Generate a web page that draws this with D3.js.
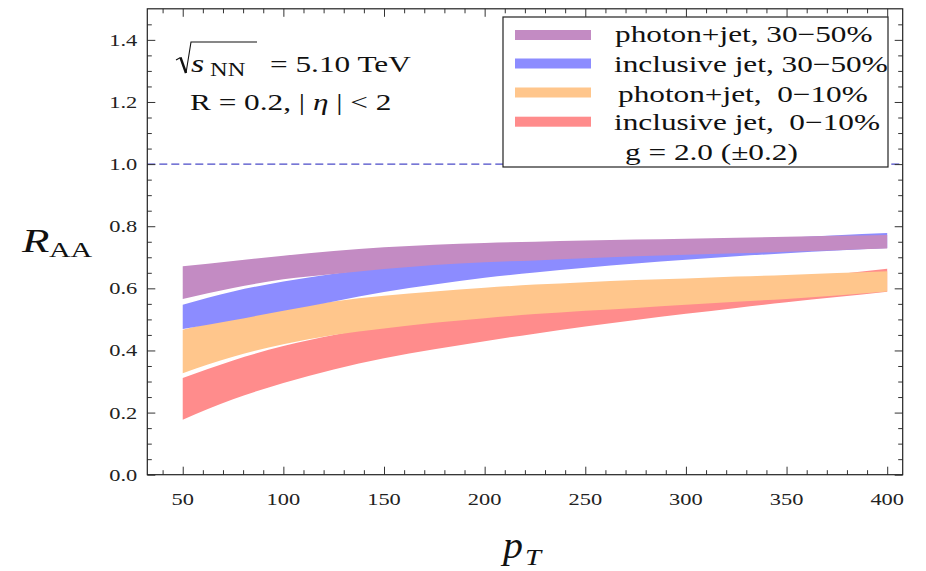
<!DOCTYPE html>
<html><head><meta charset="utf-8">
<script src="https://cdn.jsdelivr.net/npm/d3@7"></script>
<style>body{margin:0;background:#fff} svg{display:block} text{white-space:pre}</style>
</head><body><svg id="c" width="926" height="571"></svg>
<script>
// ---- data ----
const pT = [50,75,100,125,150,175,200,225,250,275,300,325,350,375,400];
const photonJet3050Lo = [0.566,0.601,0.629,0.646,0.662,0.675,0.684,0.690,0.697,0.703,0.708,0.713,0.718,0.723,0.728];
const photonJet3050Hi = [0.671,0.688,0.705,0.720,0.732,0.740,0.746,0.750,0.754,0.757,0.760,0.763,0.766,0.769,0.772];
const inclJet3050Lo   = [0.469,0.497,0.528,0.558,0.588,0.612,0.634,0.651,0.666,0.680,0.692,0.703,0.713,0.722,0.730];
const inclJet3050Hi   = [0.547,0.590,0.622,0.647,0.667,0.684,0.700,0.713,0.725,0.736,0.746,0.755,0.763,0.771,0.778];
const photonJet010Lo  = [0.327,0.380,0.420,0.450,0.471,0.489,0.504,0.517,0.528,0.537,0.547,0.557,0.566,0.577,0.590];
const photonJet010Hi  = [0.467,0.505,0.535,0.558,0.576,0.590,0.602,0.612,0.620,0.627,0.632,0.638,0.643,0.649,0.655];
const inclJet010Lo    = [0.177,0.243,0.295,0.339,0.375,0.404,0.430,0.454,0.477,0.498,0.518,0.537,0.555,0.572,0.589];
const inclJet010Hi    = [0.311,0.368,0.414,0.450,0.478,0.503,0.525,0.546,0.565,0.582,0.598,0.613,0.628,0.645,0.663];
const seriesNames = ["photon+jet, 30\u221250%","inclusive jet, 30\u221250%","photon+jet,  0\u221210%","inclusive jet,  0\u221210%"];
const seriesColors = ["#c38bc3","#8c8cff","#ffc68c","#ff8c8c"];
const xTickValues = [50,100,150,200,250,300,350,400];
const yTickValues = [0,0.2,0.4,0.6,0.8,1.0,1.2,1.4];
const yTickLabels = ["0.0","0.2","0.4","0.6","0.8","1.0","1.2","1.4"];
const refLine = 1.0;

// ---- layout ----
const L=147.3,R=902.7,T=8.8,B=474.7;
const SX=1.36; // horizontal glyph stretch of the reference
const FONT="'Liberation Serif','Times New Roman',serif";
const svg=d3.select("#c");
const x=d3.scaleLinear().domain([32.4,407.7]).range([L,R]);
const y=d3.scaleLinear().domain([0,1.5]).range([B,T]);

function stext(g,px,py,str,size,opts={}){
  const sx=opts.sx||SX;
  const t=g.append("text").attr("transform",`translate(${px},${py}) scale(${sx},1)`)
    .attr("font-family",FONT).attr("font-size",size).attr("fill",opts.fill||"#111")
    .attr("text-anchor",opts.anchor||"start");
  if(str!==null) t.text(str);
  if(opts.italic) t.attr("font-style","italic");
  return t;
}

// bands (drawn back to front)
const bands=[
  {lo:inclJet010Lo,hi:inclJet010Hi,c:seriesColors[3]},
  {lo:photonJet010Lo,hi:photonJet010Hi,c:seriesColors[2]},
  {lo:inclJet3050Lo,hi:inclJet3050Hi,c:seriesColors[1]},
  {lo:photonJet3050Lo,hi:photonJet3050Hi,c:seriesColors[0]}
];
const area=d3.area().x(d=>x(d.p)).y0(d=>y(d.lo)).y1(d=>y(d.hi)).curve(d3.curveMonotoneX);
bands.forEach(b=>{
  const data=pT.map((p,i)=>({p,lo:b.lo[i],hi:b.hi[i]}));
  svg.append("path").datum(data).attr("d",area).attr("fill",b.c);
});

// dashed reference line
svg.append("line").attr("x1",L).attr("x2",R).attr("y1",y(refLine)).attr("y2",y(refLine))
  .attr("stroke","#4b4bc8").attr("stroke-width",1.2).attr("stroke-dasharray","8,4");

// axes
const minorX=d3.range(40,401,10).filter(v=>v%50!==0);
const minorY=d3.range(0.05,1.5,0.05).filter(v=>Math.abs(v/0.2-Math.round(v/0.2))>0.01);
function ax(gen,tr,vals,size){
  const g=svg.append("g").attr("transform",tr).call(gen.tickValues(vals).tickSize(-size).tickFormat(""));
  g.select(".domain").remove();
  g.selectAll("line").attr("stroke","#333").attr("stroke-width",1);
  g.selectAll("text").remove();
  return g;
}
ax(d3.axisBottom(x),`translate(0,${B})`,xTickValues,8);
ax(d3.axisBottom(x),`translate(0,${B})`,minorX,4.5);
ax(d3.axisTop(x),`translate(0,${T})`,xTickValues,8);
ax(d3.axisTop(x),`translate(0,${T})`,minorX,4.5);
ax(d3.axisLeft(y),`translate(${L},0)`,yTickValues,8);
ax(d3.axisLeft(y),`translate(${L},0)`,minorY,4.5);
ax(d3.axisRight(y),`translate(${R},0)`,yTickValues,8);
ax(d3.axisRight(y),`translate(${R},0)`,minorY,4.5);

// frame
svg.append("rect").attr("x",L).attr("y",T).attr("width",R-L).attr("height",B-T)
  .attr("fill","none").attr("stroke","#222").attr("stroke-width",1.2);

// tick labels
const lab=svg.append("g");
xTickValues.forEach(v=>stext(lab,x(v),505,String(v),16.5,{anchor:"middle",fill:"#222"}));
yTickValues.forEach((v,i)=>stext(lab,L-10,y(v)+6,yTickLabels[i],16.5,{anchor:"end",fill:"#222"}));

// axis titles
stext(svg,22,252,"R",33,{italic:true});
stext(svg,49,257,"AA",22);
stext(svg,503,558,"p",38,{italic:true,sx:1.05});
stext(svg,525,565,"T",24,{italic:true,sx:1.2});

// annotation: sqrt(s_NN) = 5.10 TeV
svg.append("path").attr("d","M176,60 L180.5,57.5").attr("fill","none").attr("stroke","#111").attr("stroke-width",1.1);
svg.append("path").attr("d","M180.5,57.5 L186,73").attr("fill","none").attr("stroke","#111").attr("stroke-width",2.4);
svg.append("path").attr("d","M186,73 L191,42 L257,42").attr("fill","none").attr("stroke","#111").attr("stroke-width",1.1);
stext(svg,191,72,"s",25,{italic:true});
stext(svg,210,76,"NN",18);
stext(svg,270,72,"= 5.10 TeV",23);
const l2=stext(svg,190,110,null,23);
l2.append("tspan").text("R = 0.2, | ");
l2.append("tspan").attr("font-style","italic").text("\u03B7");
l2.append("tspan").text(" | < 2");

// legend
const lg=svg.append("g");
lg.append("rect").attr("x",503).attr("y",17).attr("width",385).attr("height",150)
  .attr("fill","#fff").attr("stroke","#222").attr("stroke-width",1.2);
const rowY=[35,63.5,92.5,121.7];
const textY=[41.7,71.7,101.7,130];
const textX=[615,614,618,614];
seriesNames.forEach((n,i)=>{
  lg.append("rect").attr("x",515).attr("y",rowY[i]-5).attr("width",76).attr("height",10).attr("fill",seriesColors[i]);
  stext(lg,textX[i],textY[i],n,23);
});
stext(lg,625,160,"g = 2.0 (\u00B10.2)",23);
</script></body></html>
